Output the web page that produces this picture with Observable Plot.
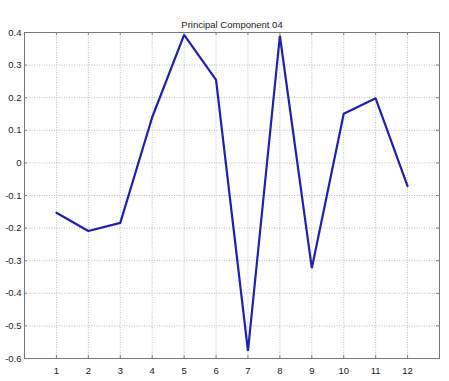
<!DOCTYPE html>
<html>
<head>
<meta charset="utf-8">
<script src="https://cdn.jsdelivr.net/npm/d3@7"></script>
<script src="https://cdn.jsdelivr.net/npm/@observablehq/plot@0.6"></script>
<style>
  html, body { margin: 0; padding: 0; background: #fff; }
  svg { font-family: "Liberation Sans", Arial, sans-serif; }
</style>
</head>
<body>
<div id="chart"></div>
<script>
const components = [1, 2, 3, 4, 5, 6, 7, 8, 9, 10, 11, 12];
const loadings = [-0.153, -0.209, -0.184, 0.14, 0.393, 0.255, -0.577, 0.39, -0.323, 0.151, 0.198, -0.071];
const xTicks = [1, 2, 3, 4, 5, 6, 7, 8, 9, 10, 11, 12];
const yTicks = [-0.6, -0.5, -0.4, -0.3, -0.2, -0.1, 0, 0.1, 0.2, 0.3, 0.4];
const titleText = "Principal Component 04";

const W = 449, H = 381, ML = 24, MR = 10, MT = 32, MB = 23;
const innerW = W - ML - MR, innerH = H - MT - MB, TL = 3;

const data = components.map((c, i) => ({c, v: loadings[i]}));
const yFmt = d => d === 0 ? "0" : d3.format(".1f")(d).replace("\u2212", "-");

const chart = Plot.plot({
  width: W,
  height: H,
  marginLeft: ML,
  marginRight: MR,
  marginTop: MT,
  marginBottom: MB,
  style: {fontFamily: "Liberation Sans, Arial, sans-serif", fontSize: "9px", color: "#222", background: "#fff"},
  x: {domain: [0, 13]},
  y: {domain: [-0.6, 0.4]},
  marks: [
    Plot.gridX(xTicks, {stroke: "#bbb", strokeOpacity: 1, strokeDasharray: "1,1.5"}),
    Plot.gridY(yTicks, {stroke: "#bbb", strokeOpacity: 1, strokeDasharray: "1,1.5"}),
    Plot.axisX(xTicks, {anchor: "bottom", tickSize: 0, tickPadding: 9, label: null, fontSize: 9.5}),
    Plot.axisY(yTicks, {anchor: "left", tickSize: 0, tickPadding: 3, label: null, tickFormat: yFmt, fontSize: 9.5}),
    Plot.tickX(xTicks, {x: d => d, insetTop: innerH - TL, stroke: "#666", strokeWidth: 0.8}),
    Plot.tickX(xTicks, {x: d => d, insetBottom: innerH - TL, stroke: "#666", strokeWidth: 0.8}),
    Plot.tickY(yTicks, {y: d => d, insetRight: innerW - TL, stroke: "#666", strokeWidth: 0.8}),
    Plot.tickY(yTicks, {y: d => d, insetLeft: innerW - TL, stroke: "#666", strokeWidth: 0.8}),
    Plot.frame({stroke: "#777", strokeWidth: 1}),
    Plot.line(data, {x: "c", y: "v", stroke: "#2020b0", strokeWidth: 2.2, strokeLinejoin: "miter"}),
    Plot.text([titleText], {frameAnchor: "top", dy: -11, text: d => d, fontSize: 9.5, fill: "#222"})
  ]
});
document.getElementById("chart").appendChild(chart);
</script>
</body>
</html>
